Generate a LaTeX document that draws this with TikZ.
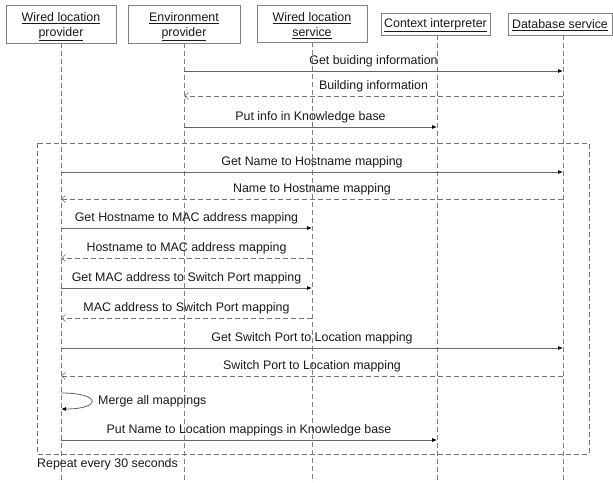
\documentclass[tikz,border=0pt]{standalone}
\usepackage{fontspec}
\setmainfont{Liberation Sans}
\usetikzlibrary{arrows.meta}
\begin{document}
\begin{tikzpicture}[x=1pt,y=-1pt,
  txt/.style={font=\fontsize{12.4}{15}\selectfont, text=black!90, inner sep=0pt},
  headbox/.style={draw=black!50, line width=0.8pt, fill=white, inner sep=0pt},
  headtxt/.style={txt, align=center},
  life/.style={draw=black!50, line width=0.8pt, dash pattern=on 5pt off 3pt},
  call/.style={draw=black!60, line width=0.8pt, -{Latex[length=5pt,width=4pt,black]}},
  reply/.style={draw=black!55, line width=0.8pt, dash pattern=on 5pt off 3pt,
    -{Straight Barb[length=4pt,width=7pt,line width=0.6pt]}},
  msg/.style={txt, midway, anchor=base, yshift=6.5pt},
  loopframe/.style={draw=black!55, line width=0.8pt, dash pattern=on 5pt off 3pt}
]
\useasboundingbox (0,0) rectangle (613,482);

% lifeline positions
\coordinate (L1) at (61,0);
\coordinate (L2) at (184,0);
\coordinate (L3) at (312,0);
\coordinate (L4) at (437,0);
\coordinate (L5) at (563,0);

% lifelines
\draw[life] (L1 |- 0,43) -- (L1 |- 0,482);
\draw[life] (L2 |- 0,43) -- (L2 |- 0,482);
\draw[life] (L3 |- 0,42) -- (L3 |- 0,482);
\draw[life] (L4 |- 0,35) -- (L4 |- 0,482);
\draw[life] (L5 |- 0,35) -- (L5 |- 0,482);

% participant heads
\node[headbox, minimum width=110pt, minimum height=38pt] (wlp) at (61,24) {};
\node[headtxt] (wlpt) at ([yshift=-2.5pt]wlp.center)
  {\underline{Wired location}\\\underline{provider}};
\node[headbox, minimum width=112pt, minimum height=38pt] (env) at (184,24) {};
\node[headtxt] (envt) at ([yshift=-2.5pt]env.center)
  {\underline{Environment}\\\underline{provider}};
\node[headbox, minimum width=110pt, minimum height=37pt] (wls) at (312,23.5) {};
\node[headtxt] (wlst) at ([yshift=-2.5pt]wls.center)
  {\underline{Wired location}\\\underline{service}};
\node[headbox, minimum width=109pt, minimum height=22pt] (ctx) at (435.5,24) {};
\node[headtxt] (ctxt) at ([yshift=-1.5pt]ctx.center) {\underline{Context interpreter}};
\node[headbox, minimum width=104pt, minimum height=22pt] (dbs) at (560,24) {};
\node[headtxt] (dbst) at ([yshift=-1.5pt]dbs.center) {\underline{Database service}};

% building information exchange
\draw[call] (L2 |- 0,71) -- (L5 |- 0,71) node[msg] {Get buiding information};
\draw[reply] (L5 |- 0,96) -- (L2 |- 0,96) node[msg] {Building information};
\draw[call] (L2 |- 0,127) -- (L4 |- 0,127) node[msg] {Put info in Knowledge base};

% repeated block
\draw[loopframe] (37,143) rectangle (589,454);
\draw[call] (L1 |- 0,172) -- (L5 |- 0,172) node[msg] {Get Name to Hostname mapping};
\draw[reply] (L5 |- 0,199) -- (L1 |- 0,199) node[msg] {Name to Hostname mapping};
\draw[call] (L1 |- 0,228) -- (L3 |- 0,228) node[msg] {Get Hostname to MAC address mapping};
\draw[reply] (L3 |- 0,258) -- (L1 |- 0,258) node[msg] {Hostname to MAC address mapping};
\draw[call] (L1 |- 0,288) -- (L3 |- 0,288) node[msg] {Get MAC address to Switch Port mapping};
\draw[reply] (L3 |- 0,318) -- (L1 |- 0,318) node[msg] {MAC address to Switch Port mapping};
\draw[call] (L1 |- 0,348) -- (L5 |- 0,348) node[msg] {Get Switch Port to Location mapping};
\draw[reply] (L5 |- 0,376) -- (L1 |- 0,376) node[msg] {Switch Port to Location mapping};

% self call
\draw[call] (L1 |- 0,393) .. controls (102,393) and (102,409) .. (L1 |- 0,409);
\node[txt, anchor=west] (merge) at (98,401) {Merge all mappings};

\draw[call] (L1 |- 0,440) -- (L4 |- 0,440) node[msg] {Put Name to Location mappings in Knowledge base};

\node[txt, anchor=west] (rep) at (37,464) {Repeat every 30 seconds};
\end{tikzpicture}
\end{document}
